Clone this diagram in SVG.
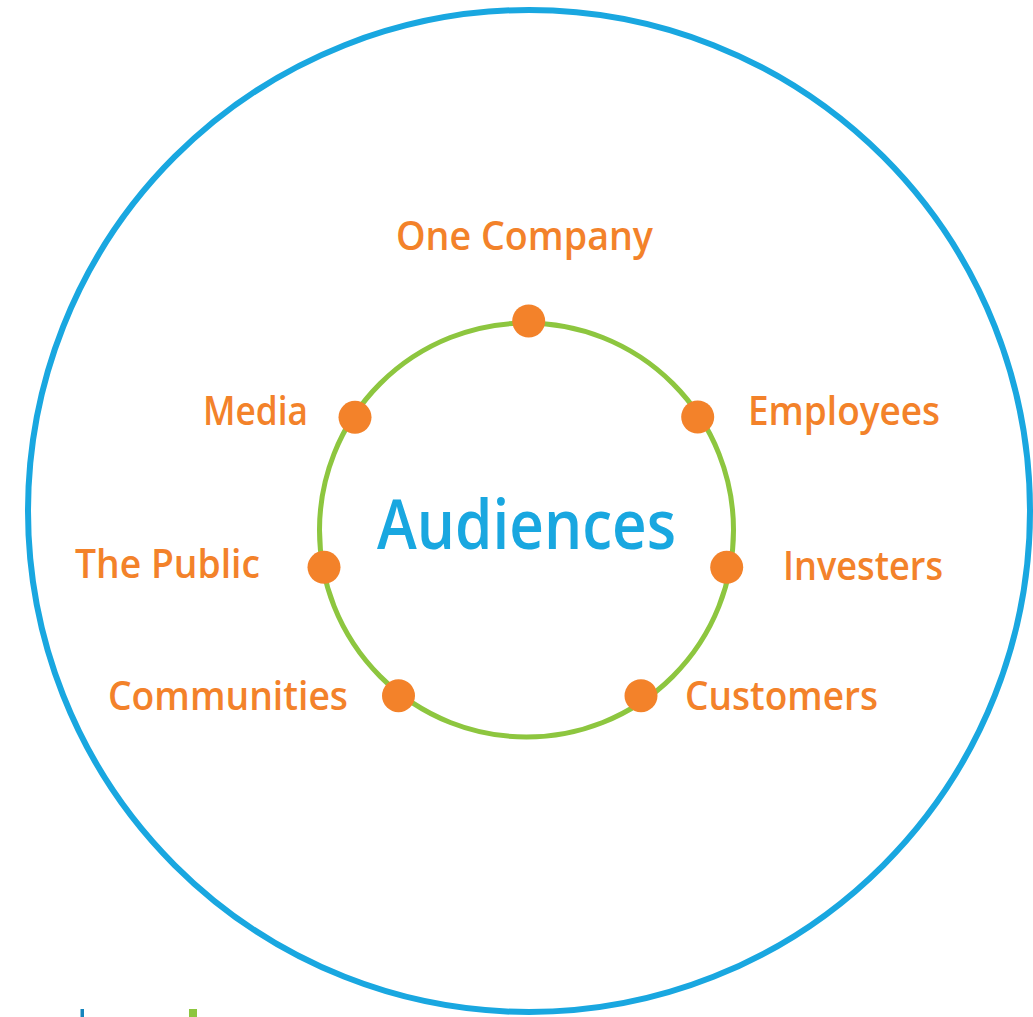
<svg xmlns="http://www.w3.org/2000/svg" width="1033" height="1017" viewBox="0 0 1033 1017">
  <style>
    .lbl { font-family: "Open Sans", "Liberation Sans", sans-serif; font-weight: 600; font-size: 40px; fill: #F3822A; }
    .title { font-family: "Open Sans", "Liberation Sans", sans-serif; font-weight: 600; font-size: 68px; fill: #19A7E0; }
    .dot { fill: #F3822A; }
  </style>
  <rect width="1033" height="1017" fill="#ffffff"/>
  <g id="outer-circle">
    <circle cx="529" cy="511" r="501" fill="none" stroke="#19A7E0" stroke-width="6"/>
  </g>
  <g id="connectors">
    <circle cx="526.5" cy="530" r="207" fill="none" stroke="#8DC63F" stroke-width="5"/>
  </g>
  <g id="center">
    <text class="title" x="377" y="549" textLength="299" lengthAdjust="spacingAndGlyphs">Audiences</text>
  </g>
  <g id="node-one-company">
    <circle class="dot" cx="528.7" cy="321" r="16.5"/>
    <text class="lbl" x="396" y="250" textLength="257" lengthAdjust="spacingAndGlyphs">One Company</text>
  </g>
  <g id="node-employees">
    <circle class="dot" cx="697.7" cy="417" r="16.5"/>
    <text class="lbl" x="748" y="425" textLength="192" lengthAdjust="spacingAndGlyphs">Employees</text>
  </g>
  <g id="node-investers">
    <circle class="dot" cx="726.7" cy="567.3" r="16.5"/>
    <text class="lbl" x="783" y="580" textLength="160" lengthAdjust="spacingAndGlyphs">Investers</text>
  </g>
  <g id="node-customers">
    <circle class="dot" cx="641" cy="695.7" r="16.5"/>
    <text class="lbl" x="685" y="710" textLength="193" lengthAdjust="spacingAndGlyphs">Customers</text>
  </g>
  <g id="node-communities">
    <circle class="dot" cx="398.5" cy="695.7" r="16.5"/>
    <text class="lbl" x="108" y="710" textLength="240" lengthAdjust="spacingAndGlyphs">Communities</text>
  </g>
  <g id="node-the-public">
    <circle class="dot" cx="324" cy="567.3" r="16.5"/>
    <text class="lbl" x="75" y="578" textLength="185" lengthAdjust="spacingAndGlyphs">The Public</text>
  </g>
  <g id="node-media">
    <circle class="dot" cx="355" cy="417.3" r="16.5"/>
    <text class="lbl" x="203" y="425" textLength="105" lengthAdjust="spacingAndGlyphs">Media</text>
  </g>
  <g id="marks">
    <rect x="80.5" y="1009" width="3.5" height="8" fill="#1585BD"/>
    <rect x="189" y="1009" width="8" height="8" fill="#8DC63F"/>
  </g>
</svg>
